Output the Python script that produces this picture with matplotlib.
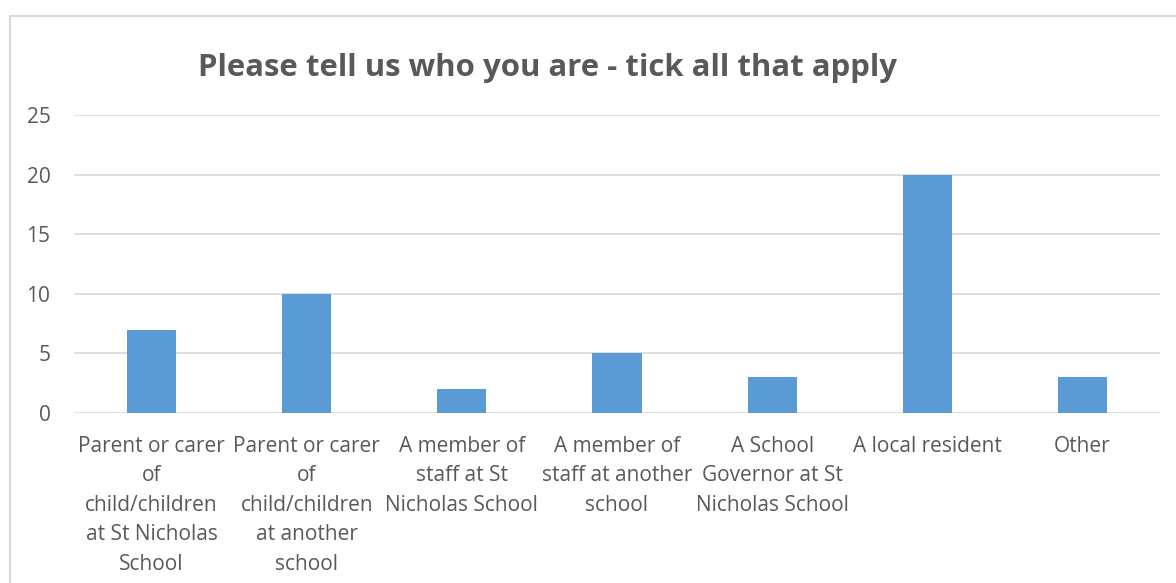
import matplotlib.pyplot as plt
from matplotlib.patches import Rectangle
import numpy as np

categories = [
    "Parent or carer\nof\nchild/children\nat St Nicholas\nSchool",
    "Parent or carer\nof\nchild/children\nat another\nschool",
    "A member of\nstaff at St\nNicholas School",
    "A member of\nstaff at another\nschool",
    "A School\nGovernor at St\nNicholas School",
    "A local resident",
    "Other",
]
counts = [7, 10, 2, 5, 3, 20, 3]
yticks = [0, 5, 10, 15, 20, 25]

text_color = "#595959"
bar_color = "#5b9bd5"
grid_color = "#d9d9d9"

plt.rcParams["font.family"] = ["Open Sans", "DejaVu Sans"]

fig = plt.figure(figsize=(11.76, 5.83), dpi=100)
ax = fig.add_axes([74 / 1176, 1 - 413 / 583, (1160 - 74) / 1176, (413 - 115) / 583])

# outer chart border (cropped on the right and bottom)
fig.patches.append(Rectangle((10 / 1176, -0.1), 1.2, 1.1 - 16 / 583, transform=fig.transFigure,
                             fill=False, edgecolor=grid_color, linewidth=1.5))

x = np.arange(len(categories))
ax.bar(x, counts, width=0.316, color=bar_color, zorder=3)

ax.set_xlim(-0.5, len(categories) - 0.5)
ax.set_ylim(0, 25)
ax.set_yticks(yticks)
ax.set_xticks(x)
ax.set_xticklabels(categories, fontsize=15, color=text_color, linespacing=1.53, va="top")
ax.tick_params(axis="y", labelsize=15, labelcolor=text_color, length=0, pad=17)
ax.tick_params(axis="x", length=0, pad=16.5)

ax.grid(axis="y", color=grid_color, linewidth=1.2, zorder=0)
for s in ax.spines.values():
    s.set_visible(False)

fig.text(548 / 1176, 1 - 68 / 583, "Please tell us who you are - tick all that apply",
         ha="center", va="center", fontsize=22.4, fontweight="bold", color=text_color)

fig.savefig("out.png", dpi=100)
